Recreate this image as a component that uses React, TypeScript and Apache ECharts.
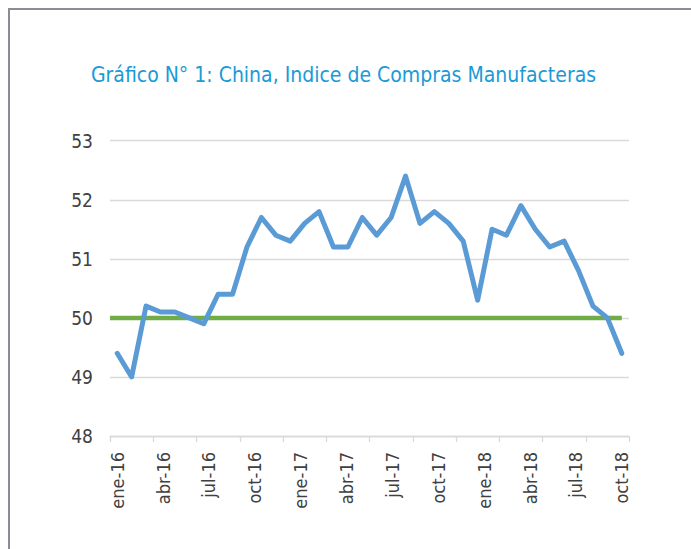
import React, { useEffect, useRef } from "react";
import * as echarts from "echarts";

const TITLE = "Gráfico N° 1: China, Indice de Compras Manufacteras";

const MONTHS = ["ene", "feb", "mar", "abr", "may", "jun", "jul", "ago", "sep", "oct", "nov", "dic"];
const YEARS = ["16", "17", "18"];
const categories: string[] = YEARS.flatMap((y) => MONTHS.map((m) => `${m}-${y}`));

const pmi2016 = [49.4, 49.0, 50.2, 50.1, 50.1, 50.0, 49.9, 50.4, 50.4, 51.2, 51.7, 51.4];
const pmi2017 = [51.3, 51.6, 51.8, 51.2, 51.2, 51.7, 51.4, 51.7, 52.4, 51.6, 51.8, 51.6];
const pmi2018 = [51.3, 50.3, 51.5, 51.4, 51.9, 51.5, 51.2, 51.3, 50.8, 50.2, 50.0, 49.4];
const pmiValues = [...pmi2016, ...pmi2017, ...pmi2018];

const tickLabels = [
  "ene-16", "abr-16", "jul-16", "oct-16",
  "ene-17", "abr-17", "jul-17", "oct-17",
  "ene-18", "abr-18", "jul-18", "oct-18",
];

const threshold = 50;
const yMin = 48;
const yMax = 53;
const yStep = 1;

const FONT = "'Liberation Sans Narrow', 'DejaVu Sans Condensed', 'Roboto', sans-serif";

export default function App() {
  const ref = useRef<HTMLDivElement>(null);

  useEffect(() => {
    if (!ref.current) return;
    const chart = echarts.init(ref.current, undefined, { renderer: "svg" });
    const n = categories.length;
    const lastIdx = n - 1;
    // labels spread evenly from first to last category (as in the original)
    const labelPositions = tickLabels.map((_, k) => (k * lastIdx) / (tickLabels.length - 1));

    chart.setOption({
      animation: false,
      backgroundColor: "#ffffff",
      graphic: [
        {
          type: "rect",
          shape: { x: 9, y: 9, width: 900, height: 900 },
          style: { fill: "none", stroke: "#8c8c96", lineWidth: 2 },
          silent: true,
        },
        {
          type: "text",
          x: 343.5,
          y: 75,
          style: {
            text: TITLE,
            fill: "#1a9ad6",
            fontSize: 21,
            fontFamily: FONT,
            align: "center",
            verticalAlign: "middle",
          },
        },
      ],
      grid: {
        left: 110,
        right: 62,
        top: 140.7,
        bottom: 113,
        containLabel: false,
        outerBoundsMode: "none",
      },
      xAxis: [
        {
          type: "category",
          data: categories,
          boundaryGap: true,
          position: "bottom",
          axisLine: { show: true, lineStyle: { color: "#d9d9d9", width: 1.3 } },
          axisTick: { show: true, interval: 2, length: 6, lineStyle: { color: "#d9d9d9", width: 1.3 } },
          axisLabel: { show: false },
          splitLine: { show: false },
        },
        {
          type: "value",
          min: -0.5,
          max: lastIdx + 0.5,
          position: "bottom",
          axisLine: { show: false },
          axisTick: { show: false },
          splitLine: { show: false },
          axisLabel: {
            show: true,
            customValues: labelPositions,
            rotate: 90,
            margin: 16,
            fontSize: 18,
            fontFamily: FONT,
            color: "#404040",
            formatter: (v: number) => {
              const k = labelPositions.findIndex((p) => Math.abs(p - v) < 1e-6);
              return k >= 0 ? tickLabels[k] : "";
            },
          },
        },
      ],
      yAxis: {
        type: "value",
        min: yMin,
        max: yMax,
        interval: yStep,
        axisLine: { show: false },
        axisTick: { show: false },
        axisLabel: { margin: 17, fontSize: 19, fontFamily: FONT, color: "#404040" },
        splitLine: { show: true, lineStyle: { color: "#d9d9d9", width: 1.3 } },
      },
      series: [
        {
          type: "line",
          xAxisIndex: 1,
          data: [[-0.5, threshold], [lastIdx, threshold]],
          showSymbol: false,
          symbol: "none",
          lineStyle: { color: "#70ad47", width: 4.5 },
          z: 2,
          silent: true,
        },
        {
          type: "line",
          xAxisIndex: 0,
          data: pmiValues,
          showSymbol: false,
          symbol: "none",
          lineStyle: { color: "#5b9bd5", width: 5, cap: "round", join: "round" },
          z: 3,
          silent: true,
        },
      ],
    });
    return () => chart.dispose();
  }, []);

  return (
    <div
      ref={ref}
      style={{ position: "fixed", left: 0, top: 0, width: 691, height: 549, background: "#fff" }}
    />
  );
}
